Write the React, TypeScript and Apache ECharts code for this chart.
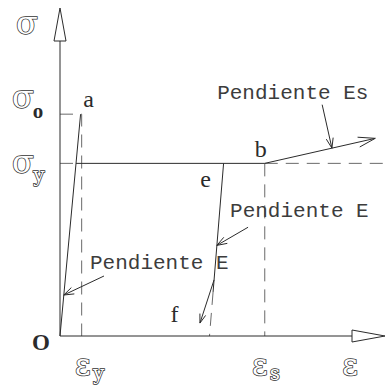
import React, { useEffect, useRef } from "react";
import * as echarts from "echarts";

// Idealised stress–strain curve of mild steel (σ in MPa, ε dimensionless)
const EPS_MAX = 0.03;
const SIG_MAX = 380;

const sigmaLevels = [257, 200]; // σo, σy
const sigmaSubs = ["o", "y"];
const strainMarks = [0.002, 0.0189]; // εy, εs
const strainSubs = ["y", "s"];

const pointNames = ["a", "b", "e", "f"];
const pointStrain = [0.0019, 0.0189, 0.0151, 0.0138];
const pointStress = [257, 200, 200, 0];

const hardeningEnd = [0.0291, 229];
const unloadDashBelow = 51; // stress under which the unloading branch is dashed

const slopeNotes = ["Pendiente Es", "Pendiente E", "Pendiente E"];
const pointerFrom = [
  [0.0242, 268],
  [0.01736, 126],
  [0.00406, 69.5],
];
const pointerToStrain = [0.0251, null, null];
const pointerToStress = [null, 105, 47.5];
const unloadArrowStress = [65, 15];
const unloadArrowEndStrain = 0.01292;

// derived geometry
const [sigO, sigY] = sigmaLevels;
const [epsY, epsS] = strainMarks;
const epsA = pointStrain[0];
const epsE = pointStrain[2];
const epsF = pointStrain[3];
const epsCross = (epsA * sigY) / sigO; // elastic line meets σy
const unloadAt = (s: number) => epsF + ((epsE - epsF) * s) / sigY;
const elasticAt = (s: number) => (epsA * s) / sigO;
const hardeningAt = (e: number) =>
  sigY + ((hardeningEnd[1] - sigY) * (e - epsS)) / (hardeningEnd[0] - epsS);

const pointerTo = [
  [pointerToStrain[0] as number, hardeningAt(pointerToStrain[0] as number)],
  [unloadAt(pointerToStress[1] as number), pointerToStress[1] as number],
  [elasticAt(pointerToStress[2] as number), pointerToStress[2] as number],
];

const INK = "#2b2b2b";
const OUTLINE = "#333";
const GUIDE = "#6a6a6a";
const NOTE = "#3c3c3c";
const GREEK = '"DejaVu Serif", serif';
const ROMAN = '"Liberation Serif", serif';
const MONO = '"Liberation Mono", monospace';

const lineSeries = (name: string, data: number[][], dashed = false) => ({
  type: "line",
  name,
  data,
  symbol: "none",
  silent: true,
  z: dashed ? 2 : 3,
  lineStyle: {
    color: dashed ? GUIDE : INK,
    width: 1,
    type: dashed ? [13, 8] : "solid",
  },
});

const arrowSeries = (
  name: string,
  segs: number[][],
  head: number,
  half: number,
  hollow = false
) => ({
  type: "custom",
  name,
  silent: true,
  z: 4,
  data: segs,
  renderItem: (_p: any, api: any) => {
    const p0 = api.coord([api.value(0), api.value(1)]);
    const p1 = api.coord([api.value(2), api.value(3)]);
    const dx = p1[0] - p0[0];
    const dy = p1[1] - p0[1];
    const len = Math.hypot(dx, dy);
    const ux = dx / len;
    const uy = dy / len;
    const bx = p1[0] - ux * head;
    const by = p1[1] - uy * head;
    const nx = -uy * half;
    const ny = ux * half;
    const stroke = { stroke: INK, lineWidth: 1, fill: null };
    if (hollow) {
      return {
        type: "group",
        children: [
          { type: "line", shape: { x1: p0[0], y1: p0[1], x2: bx, y2: by }, style: stroke },
          {
            type: "polygon",
            shape: { points: [[bx + nx, by + ny], [p1[0], p1[1]], [bx - nx, by - ny]] },
            style: { stroke: INK, lineWidth: 1, fill: "#fff" },
          },
        ],
      };
    }
    return {
      type: "group",
      children: [
        { type: "line", shape: { x1: p0[0], y1: p0[1], x2: p1[0], y2: p1[1] }, style: stroke },
        {
          type: "polyline",
          shape: { points: [[bx + nx, by + ny], [p1[0], p1[1]], [bx - nx, by - ny]] },
          style: stroke,
        },
      ],
    };
  },
});

const txt = (
  x: number,
  y: number,
  text: string,
  font: string,
  hollow = false,
  align = "center"
) => ({
  type: "text",
  x,
  y,
  style: {
    text,
    font,
    fill: hollow ? "#fff" : INK,
    stroke: hollow ? OUTLINE : null,
    lineWidth: hollow ? 1.5 : 0,
    align,
    verticalAlign: "middle",
  },
});

// each label is anchored to a data value and nudged by a pixel offset
const textSeries = (name: string, data: number[][], build: (i: number, p: number[]) => any) => ({
  type: "custom",
  name,
  silent: true,
  z: 5,
  data,
  renderItem: (params: any, api: any) => {
    const p = api.coord([api.value(0), api.value(1)]);
    return build(params.dataIndex, p);
  },
});

const SIGMA_FONT = `32px ${GREEK}`;
const EPS_FONT = `30px ${GREEK}`;
const SUB_FONT = `20px ${GREEK}`;

const pointOffsets = [
  [8, -15],
  [-4, -14],
  [-18, 16],
  [-35, -22],
];
const noteOffsets = [
  [-105, -11],
  [-18, -16],
  [-14, -13],
];

export default function App() {
  const ref = useRef<HTMLDivElement>(null);

  useEffect(() => {
    const chart = echarts.init(ref.current!, null, { renderer: "svg" });
    chart.setOption({
      animation: false,
      backgroundColor: "#fff",
      grid: { left: 60, top: 8, width: 325, height: 328 },
      xAxis: { type: "value", min: 0, max: EPS_MAX, show: false },
      yAxis: { type: "value", min: 0, max: SIG_MAX, show: false },
      series: [
        // guides
        lineSeries("σo guía", [[0, sigO], [epsY, sigO], [epsY, 0]], true),
        lineSeries("σy guía", [[0, sigY], [epsCross, sigY]], true),
        lineSeries("σy prolongación", [[epsS, sigY], [EPS_MAX, sigY]], true),
        lineSeries("εs guía", [[epsS, sigY], [epsS, 0]], true),
        // curve
        lineSeries("elástica", [[0, 0], [epsA, sigO]]),
        lineSeries("fluencia", [[epsCross, sigY], [epsS, sigY]]),
        lineSeries("descarga", [[epsE, sigY], [unloadAt(unloadDashBelow), unloadDashBelow]]),
        lineSeries("descarga final", [[unloadAt(unloadDashBelow), unloadDashBelow], [epsF, 0]], true),
        arrowSeries("endurecimiento", [[epsS, sigY, hardeningEnd[0], hardeningEnd[1]]], 17, 5),
        // axes
        arrowSeries("ejes", [[0, 0, EPS_MAX, 0], [0, 0, 0, SIG_MAX]], 33, 6, true),
        // pointers
        arrowSeries(
          "pendientes",
          pointerFrom.map((p, i) => [p[0], p[1], pointerTo[i][0], pointerTo[i][1]]),
          10,
          3.5
        ),
        arrowSeries(
          "sentido descarga",
          [[unloadAt(unloadArrowStress[0]), unloadArrowStress[0], unloadArrowEndStrain, unloadArrowStress[1]]],
          9,
          3
        ),
        // labels
        textSeries("σ ticks", sigmaLevels.map((s) => [0, s]), (i, p) => ({
          type: "group",
          children: [
            txt(p[0] - 37, p[1] + (i === 0 ? -17 : -1), "σ", SIGMA_FONT, true),
            i === 0
              ? txt(p[0] - 22, p[1] - 3, sigmaSubs[i], `bold 21px ${ROMAN}`)
              : txt(p[0] - 21, p[1] + 12, sigmaSubs[i], SUB_FONT, true),
          ],
        })),
        textSeries("ε ticks", strainMarks.map((e) => [e, 0]), (i, p) => ({
          type: "group",
          children: [
            txt(p[0] + (i === 0 ? 1 : -5), p[1] + 28, "ε", EPS_FONT, true),
            txt(p[0] + (i === 0 ? 17 : 10), p[1] + (i === 0 ? 37 : 37), strainSubs[i], SUB_FONT, true),
          ],
        })),
        textSeries("títulos", [[0, SIG_MAX], [EPS_MAX, 0], [0, 0]], (i, p) =>
          i === 0
            ? txt(p[0] - 33, p[1] + 15, "σ", SIGMA_FONT, true)
            : i === 1
            ? txt(p[0] - 35, p[1] + 28, "ε", EPS_FONT, true)
            : txt(p[0] - 19, p[1] + 6, "O", `bold 23px ${ROMAN}`)
        ),
        textSeries("puntos", pointStrain.map((e, i) => [e, pointStress[i]]), (i, p) =>
          txt(p[0] + pointOffsets[i][0], p[1] + pointOffsets[i][1], pointNames[i], `24px ${ROMAN}`)
        ),
        textSeries("notas", pointerFrom, (i, p) => ({
          type: "text",
          x: p[0] + noteOffsets[i][0],
          y: p[1] + noteOffsets[i][1],
          style: {
            text: slopeNotes[i],
            font: `21px ${MONO}`,
            fill: NOTE,
            align: "left",
            verticalAlign: "middle",
          },
        })),
      ],
    });
    return () => chart.dispose();
  }, []);

  return (
    <div
      ref={ref}
      style={{ position: "fixed", left: 0, top: 0, width: 385, height: 385, background: "#fff" }}
    />
  );
}
